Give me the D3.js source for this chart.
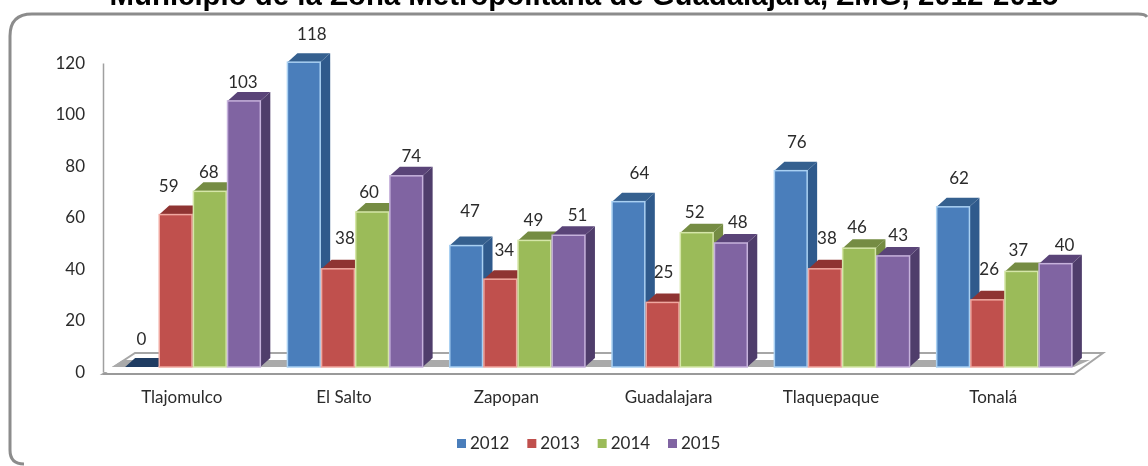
<!DOCTYPE html>
<html><head><meta charset="utf-8">
<script src="https://cdn.jsdelivr.net/npm/d3@7"></script>
<style>html,body{margin:0;padding:0;background:#fff;overflow:hidden}svg{display:block;filter:blur(0.45px)}
text{font-family:Lato,"Open Sans",sans-serif;fill:#2b2b2b}</style></head><body>
<svg id="c" width="1148" height="466"></svg>
<script>
const titleText = "Municipio de la Zona Metropolitana de Guadalajara, ZMG, 2012-2015";
const categories = ["Tlajomulco","El Salto","Zapopan","Guadalajara","Tlaquepaque","Tonalá"];
const years = ["2012","2013","2014","2015"];
const values2012 = [0,118,47,64,76,62];
const values2013 = [59,38,34,25,38,26];
const values2014 = [68,60,49,52,46,37];
const values2015 = [103,74,51,48,43,40];
const yTicks = [0,20,40,60,80,100,120];
const frontColors = ["#4a7ebb","#c0504d","#9bbb59","#8064a2"];
const edgeColors  = ["#a9d0f2","#f0a8a0","#d5e6a8","#c6b2dc"];
const sideColors  = ["#2f5a8c","#8f3432","#758c43","#4f3d6b"];
const topColors   = ["#35608f","#8f3432","#758c43","#5a4478"];
// label nudges relative to the bar's centre / top (hand-placed in the source)
const nudgeX = [[0,8,4,11,6,6],[-7,7,4,1,2,2],[-1,-3,-1,-2,-2,-3],[-1,5,9,7,5,9]];
const nudgeY = [[-28,-28,-35,-29,-29,-29],[-29,-31,-29,-30,-31,-31],[-19,-20,-20,-21,-21,-21],[-19,-20,-20,-21,-21,-19]];

const series = [values2012,values2013,values2014,values2015];
const svg = d3.select("#c");
const dx = 10, dy = 9, labelSize = "17px";
const x0 = d3.scaleBand().domain(categories).range([117,1080]).paddingInner(0.167).paddingOuter(0.05);
const x1 = d3.scaleBand().domain(years).range([0,x0.bandwidth()]).paddingInner(0.04);
const y = d3.scaleLinear().domain([0,120]).range([367,57]);
const axisY = d3.scaleLinear().domain([0,120]).range([372,63]);

// frame
svg.append("path").attr("fill","none").attr("stroke","#8c8c8c").attr("stroke-width",3)
  .attr("d","M24,464 Q10,464 10,450 L10,36 Q10,14 32,14 L1138,14 Q1145,14 1147,17");

// title (clipped by the top of the picture, as in the source)
svg.append("text").text(titleText).attr("x",584).attr("y",5).attr("text-anchor","middle")
  .style("font-family","'Liberation Sans',Arial,sans-serif").style("font-weight","700")
  .style("font-size","29.4px").style("fill","#000");

// floor
const X0 = axisY(0);
svg.append("path").attr("fill","#fff").attr("stroke","#a6a6a6").attr("stroke-width",2)
  .attr("d",`M103,${X0+2} L1074,${X0+2} L1103,353 L135,353 Z`);
svg.append("path").attr("fill","#aaaaaa")
  .attr("d",`M112,367 L123,360 L1090,360 L1074,367 Z`);
svg.append("path").attr("fill","#fff")
  .attr("d",`M103,${X0} L1071,${X0} L1075,367 L110,367 Z`);
// y axis
const ga = svg.append("g").attr("transform","translate(103,0)")
  .call(d3.axisLeft(axisY).tickValues(yTicks).tickSize(0).tickPadding(18));
ga.select(".domain").attr("stroke","#a0a0a0").attr("stroke-width",1.5);
ga.selectAll("text").style("font-size",labelSize).attr("fill","#2b2b2b");
svg.append("line").attr("x1",103).attr("x2",1074).attr("y1",X0+2).attr("y2",X0+2)
  .attr("stroke","#9a9a9a").attr("stroke-width",2);

// bars
categories.forEach((c,ci)=>{
  years.forEach((yr,si)=>{
    const v = series[si][ci];
    const l = x0(c)+x1(yr), w = x1.bandwidth(), t = y(v), b = y(0);
    const g = svg.append("g").attr("class","bar");
    g.append("path").attr("fill",sideColors[si])
      .attr("d",`M${l+w},${t} L${l+w+dx},${t-dy} L${l+w+dx},${b-dy} L${l+w},${b} Z`);
    g.append("path").attr("fill",v>0?topColors[si]:"#1f3c62")
      .attr("d",`M${l},${t} L${l+dx},${t-dy} L${l+w+dx},${t-dy} L${l+w},${t} Z`);
    if (v>0) g.append("rect").attr("x",l).attr("y",t).attr("width",w).attr("height",b-t)
      .attr("fill",frontColors[si]).attr("stroke",edgeColors[si]).attr("stroke-width",1.5);
  });
});

// data labels
categories.forEach((c,ci)=>{
  years.forEach((yr,si)=>{
    const v = series[si][ci];
    svg.append("text").text(v)
      .attr("x",x0(c)+x1(yr)+x1.bandwidth()/2+nudgeX[si][ci])
      .attr("y",y(v)+nudgeY[si][ci]+6)
      .attr("text-anchor","middle").style("font-size",labelSize);
  });
});

// category labels
categories.forEach(c=>{
  svg.append("text").text(c).attr("x",x0(c)+x0.bandwidth()/2-11).attr("y",403)
    .attr("text-anchor","middle").style("font-size","17px");
});

// legend
const legX = d3.scalePoint().domain(years).range([457,668]);
years.forEach((yr,i)=>{
  svg.append("rect").attr("x",legX(yr)).attr("y",439).attr("width",9).attr("height",9).attr("fill",frontColors[i]);
  svg.append("text").text(yr).attr("x",legX(yr)+13).attr("y",449).style("font-size","17px");
});
</script></body></html>
